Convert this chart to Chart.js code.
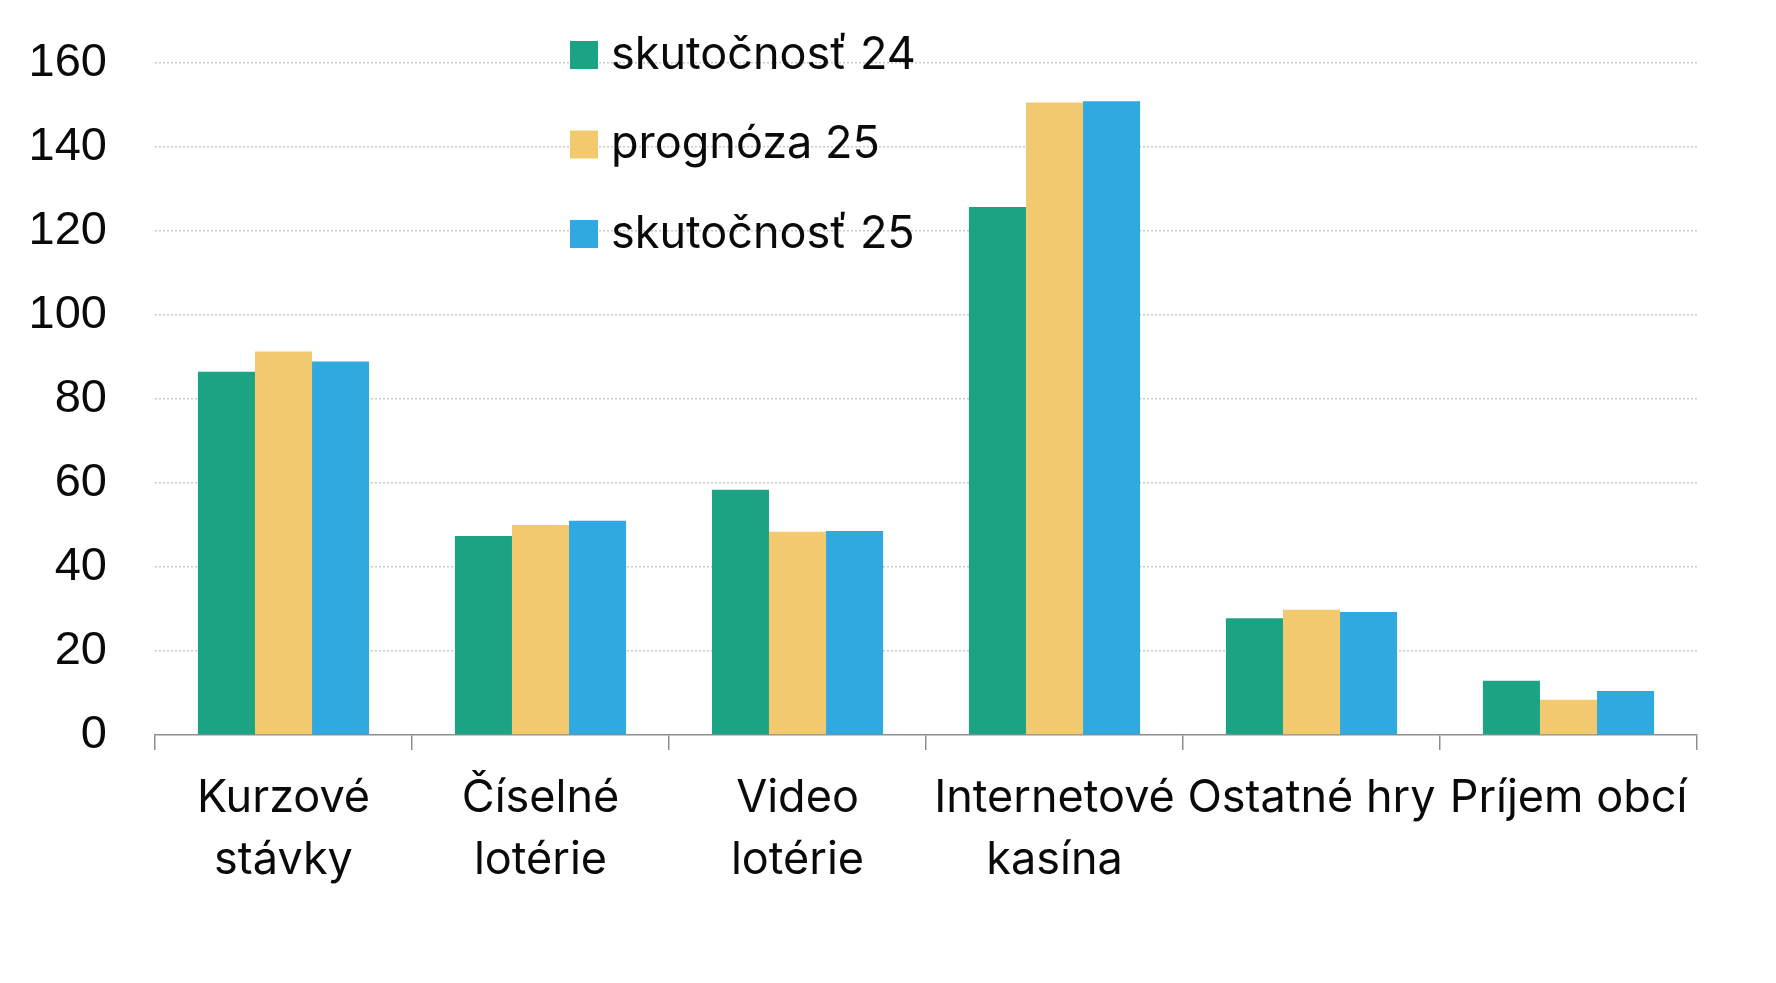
<!DOCTYPE html>
<html>
<head>
<meta charset="utf-8">
<script src="https://cdn.jsdelivr.net/npm/chart.js@4.4.0/dist/chart.umd.min.js"></script>
<style>
  html, body { margin: 0; padding: 0; background: #ffffff; }
  #wrap { width: 1776px; height: 983px; }
</style>
</head>
<body>
<div id="wrap"><canvas id="c" width="1776" height="983"></canvas></div>
<script>
const categories = [["Kurzové", "stávky"], ["Číselné", "lotérie"], ["Video", "lotérie"], ["Internetové", "kasína"], "Ostatné hry", "Príjem obcí"];
const seriesNames = ["skutočnosť 24", "prognóza 25", "skutočnosť 25"];
const skutocnost24 = [86.5, 47.4, 58.4, 125.7, 27.8, 12.9];
const prognoza25 = [91.3, 50.0, 48.4, 150.6, 29.8, 8.4];
const skutocnost25 = [88.9, 51.0, 48.6, 150.9, 29.3, 10.5];
const yMin = 0, yMax = 160, yStep = 20;

const colors = ["#1ba383", "#f2c96e", "#2fa9e0"];

const legendPlugin = {
  id: 'customLegend',
  afterDraw(chart, args, opts) {
    const ctx = chart.ctx;
    ctx.save();
    chart.data.datasets.forEach((ds, i) => {
      const cy = opts.y0 + i * opts.gap;
      ctx.fillStyle = ds.backgroundColor;
      ctx.fillRect(opts.x, cy - opts.box / 2, opts.box, opts.box);
      ctx.fillStyle = '#0a0a0a';
      ctx.font = opts.font;
      ctx.textBaseline = 'alphabetic';
      ctx.textAlign = 'left';
      ctx.fillText(ds.label, opts.x + opts.box + opts.textGap, cy + opts.baselineOffset);
    });
    ctx.restore();
  }
};

new Chart(document.getElementById('c'), {
  type: 'bar',
  data: {
    labels: categories,
    datasets: [
      { label: seriesNames[0], data: skutocnost24, backgroundColor: colors[0] },
      { label: seriesNames[1], data: prognoza25, backgroundColor: colors[1] },
      { label: seriesNames[2], data: skutocnost25, backgroundColor: colors[2] }
    ]
  },
  options: {
    responsive: false,
    animation: false,
    devicePixelRatio: 1,
    layout: { padding: { left: 29, top: 63, right: 79, bottom: 92 } },
    datasets: { bar: { categoryPercentage: 0.666, barPercentage: 1.0, borderWidth: 0 } },
    plugins: {
      legend: { display: false },
      tooltip: { enabled: false },
      customLegend: { x: 570, y0: 55, gap: 89.5, box: 28, textGap: 13, baselineOffset: 13.5, font: '45px Inter' }
    },
    scales: {
      x: {
        grid: { display: true, drawOnChartArea: false, drawTicks: true, tickLength: 15, color: '#8e8e8e', lineWidth: 1.5, offset: true },
        border: { display: true, color: '#8e8e8e', width: 1.5 },
        ticks: { color: '#0a0a0a', font: { family: 'Inter', size: 45, lineHeight: 1.38 }, padding: 17, maxRotation: 0, minRotation: 0, autoSkip: false },
        afterFit: (s) => { s.height = 156; s.paddingLeft = 0; s.paddingRight = 0; }
      },
      y: {
        min: yMin, max: yMax,
        grid: {
          drawTicks: false,
          color: (c) => (c.tick && c.tick.value === 0) ? 'rgba(0,0,0,0)' : '#c8c8c8',
          lineWidth: 1.5
        },
        border: { display: false, dash: [2, 2] },
        ticks: { stepSize: yStep, color: '#0a0a0a', font: { family: 'Liberation Sans', size: 47 }, padding: 48 },
        afterFit: (s) => { s.width = 126; s.paddingTop = 0; s.paddingBottom = 0; }
      }
    }
  },
  plugins: [legendPlugin]
});
</script>
</body>
</html>
